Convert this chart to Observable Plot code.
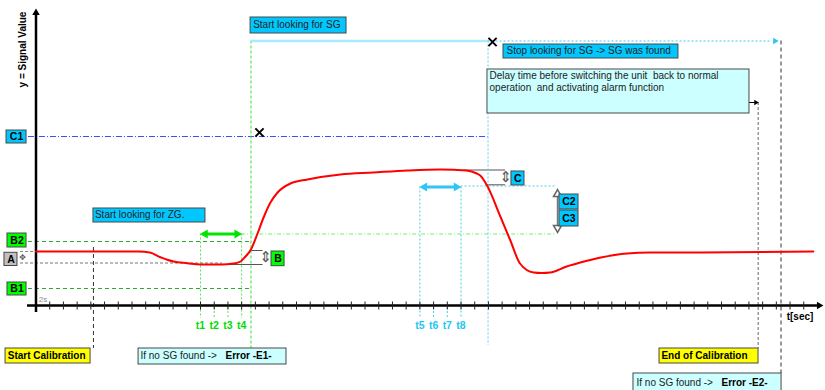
<!DOCTYPE html>
<html><head><meta charset="utf-8">
<script src="https://cdn.jsdelivr.net/npm/d3@7"></script>
<script src="https://cdn.jsdelivr.net/npm/@observablehq/plot@0.6"></script>
<style>body{margin:0;background:#fff}</style>
</head><body><div id="chart"></div>
<script>
// ---------------- data (time in ticks, signal in arbitrary units) ----------------
const curveTime   = [0, 7.5, 8.3, 9.08, 9.57, 10.03, 11.05, 12, 13.5, 14.4, 14.92, 15.28, 15.68, 16.16, 16.6, 17.1, 17.62, 18.56, 19.8, 22.2, 24.6, 27.1, 29.5, 31.4, 32.15, 32.4, 32.86, 33.9, 34.6, 35.3, 36.3, 36.9, 37.5, 38.7, 39.7, 41.2, 43.1, 44.8, 48.5, 56.7];
const curveSignal = [54, 54, 53, 48.3, 45.7, 44, 42.3, 41, 41, 42, 44, 49, 56, 72, 88, 103, 113, 122, 126, 131, 133, 135, 136, 135, 132, 130, 121, 88, 65, 42, 33, 32.5, 33, 39, 43, 48, 52, 53, 53, 54];

const levelNames  = ["C1", "B2", "A", "B1"];
const levelValues = [169, 64, 54, 17];
const aLower  = 42.5;
const bBand   = [41, 55];
const cBand   = [120.7, 135.5];
const c23Band = [73.3, 115.7];
const zgBand  = 71.5;   // level of the t1..t4 window arrow
const sgBand  = 118.5;  // level of the t5..t8 window arrow

const tickTimes = d3.range(1, 57);
const zgNames = ["t1", "t2", "t3", "t4"];
const zgTimes = [12, 13, 14, 15];
const sgNames = ["t5", "t6", "t7", "t8"];
const sgTimes = [28, 29, 30, 31];

const eventNames = ["Start Calibration", "Start looking for SG", "SG was found", "End of Calibration", "Error -E2-"];
const eventTimes = [4.19, 15.68, 32.97, 52.68, 54.34];
const sgSearchLevel = 264.5;
const delayArrowLevel = 203;

// ---------------- annotation layout (data units) ----------------
const CYAN = "#00c8ff", LCYAN = "#ccffff", YEL = "#ffff00", GRN = "#00ff00", GRY = "#c0c0c0";
const boxes = [
  {x1: -2.15, x2: -0.69, y1: 162, y2: 175, fill: CYAN},
  {x1: -2.08, x2: -0.69, y1: 58, y2: 72, fill: GRN},
  {x1: -2.30, x2: -1.35, y1: 39.5, y2: 52.7, fill: GRY},
  {x1: -2.08, x2: -0.69, y1: 10, y2: 23, fill: GRN},
  {x1: 17.18, x2: 18.13, y1: 39.3, y2: 54, fill: GRN},
  {x1: 34.68, x2: 35.63, y1: 120, y2: 134, fill: CYAN},
  {x1: 38.18, x2: 39.57, y1: 96, y2: 111, fill: CYAN},
  {x1: 38.18, x2: 39.57, y1: 79, y2: 95, fill: CYAN},
  {x1: 4.19, x2: 12.36, y1: 83, y2: 97, fill: CYAN},
  {x1: 15.65, x2: 22.65, y1: 272, y2: 288, fill: CYAN},
  {x1: 34.10, x2: 46.86, y1: 247, y2: 261, fill: CYAN},
  {x1: 32.93, x2: 52.04, y1: 192, y2: 236, fill: LCYAN},
  {x1: -2.22, x2: 3.98, y1: -58, y2: -43, fill: YEL},
  {x1: 7.48, x2: 18.27, y1: -59, y2: -43, fill: LCYAN},
  {x1: 45.48, x2: 52.70, y1: -58, y2: -43, fill: YEL},
  {x1: 43.58, x2: 54.38, y1: -88, y2: -68, fill: LCYAN}
];
const centerLabels = [
  {x: -1.42, y: 168.5, text: levelNames[0]},
  {x: -1.385, y: 65, text: levelNames[1]},
  {x: -1.825, y: 46, text: levelNames[2]},
  {x: -1.385, y: 16.5, text: levelNames[3]},
  {x: 17.65, y: 46.7, text: "B"},
  {x: 35.15, y: 127, text: "C"},
  {x: 38.87, y: 103.5, text: "C2"},
  {x: 38.87, y: 87, text: "C3"}
];
const plainLabels = [
  {x: 4.30, y: 91, text: "Start looking for ZG."},
  {x: 15.84, y: 280.7, text: eventNames[1]},
  {x: 34.32, y: 254.5, text: "Stop looking for SG -> SG was found"},
  {x: 33.08, y: 230, text: "Delay time before switching the unit\u00a0 back to normal"},
  {x: 33.08, y: 217.7, text: "operation\u00a0 and activating alarm function"},
  {x: 7.62, y: -50.5, text: "If no SG found ->"},
  {x: 43.80, y: -77.5, text: "If no SG found ->"}
];
const boldLabels = [
  {x: -2.06, y: -50, text: eventNames[0]},
  {x: 45.62, y: -50, text: eventNames[3]},
  {x: 13.82, y: -50.5, text: "Error -E1-"},
  {x: 50.0, y: -77.5, text: eventNames[4]}
];

const curve = curveTime.map((t, i) => ({t, v: curveSignal[i]}));
const font = "'Liberation Sans', Arial, Helvetica, sans-serif";

const chart = Plot.plot({
  width: 825, height: 390,
  marginTop: 0, marginRight: 0, marginBottom: 0, marginLeft: 0,
  x: {type: "linear", domain: [-35.5 / 13.71, 789.5 / 13.71], range: [0, 825], axis: null},
  y: {type: "linear", domain: [-85, 305], range: [390, 0], axis: null},
  style: {fontFamily: font, fontSize: "10px", background: "#fff", overflow: "visible"},
  marks: [
    // reference levels
    Plot.ruleY([levelValues[0]], {x1: -0.55, x2: eventTimes[2], stroke: "#3b4dff", strokeDasharray: "6,2,1,2"}),
    Plot.ruleY([levelValues[1], levelValues[3]], {x1: -0.55, x2: eventTimes[1], stroke: "#2fa82f", strokeDasharray: "4,3"}),
    Plot.ruleY([levelValues[2]], {x1: -1.13, x2: 0, stroke: "#888", strokeDasharray: "3,2"}),
    Plot.ruleY([aLower], {x1: -1.13, x2: 13.6, stroke: "#777", strokeDasharray: "3,2"}),
    Plot.ruleY([zgBand], {x1: zgTimes[3], x2: 37.89, stroke: "#77ee77", strokeDasharray: "4,2,1,2"}),
    Plot.ruleY([sgBand + 1], {x1: sgTimes[3], x2: 37.89, stroke: "#55ccee", strokeDasharray: "2,2"}),
    // B and C brackets
    Plot.ruleY([bBand[1]], {x1: eventTimes[1], x2: 16.56, stroke: "#555"}),
    Plot.ruleY([bBand[0]], {x1: 13.6, x2: 16.56, stroke: "#555"}),
    Plot.ruleY([cBand[1]], {x1: 31.22, x2: 34.25, stroke: "#555"}),
    Plot.ruleY([cBand[0]], {x1: 32.82, x2: 34.25, stroke: "#555"}),
    // time window markers
    Plot.ruleX([zgTimes[0], zgTimes[3]], {y1: zgBand, y2: -13, stroke: "#55e855", strokeDasharray: "2,2"}),
    Plot.ruleX([zgTimes[1], zgTimes[2]], {y1: -2, y2: -13, stroke: "#55e855", strokeDasharray: "2,2"}),
    Plot.ruleX([sgTimes[0], sgTimes[3]], {y1: sgBand, y2: -13, stroke: "#44ccee", strokeDasharray: "2,2"}),
    Plot.ruleX([sgTimes[1], sgTimes[2]], {y1: -2, y2: -13, stroke: "#44ccee", strokeDasharray: "2,2"}),
    // event verticals
    Plot.ruleX([eventTimes[0]], {y1: 58, y2: -43, stroke: "#333", strokeDasharray: "4,3"}),
    Plot.ruleX([eventTimes[1]], {y1: sgSearchLevel, y2: -43, stroke: "#33e033", strokeDasharray: "3,2"}),
    Plot.ruleX([eventTimes[2]], {y1: sgSearchLevel, y2: -40, stroke: "#5ccbee", strokeDasharray: "2,2"}),
    Plot.ruleX([eventTimes[3]], {y1: delayArrowLevel, y2: -43, stroke: "#999", strokeWidth: 1.5, strokeDasharray: "3,2"}),
    Plot.ruleX([eventTimes[4]], {y1: sgSearchLevel, y2: -68, stroke: "#333", strokeDasharray: "4,3"}),
    // SG search span
    Plot.ruleY([sgSearchLevel], {x1: eventTimes[1], x2: eventTimes[2], stroke: "#a8ecff", strokeWidth: 2.5}),
    Plot.ruleY([sgSearchLevel], {x1: eventTimes[2], x2: 53.7, stroke: "#44c8f0", strokeWidth: 1.2, strokeDasharray: "2,2"}),
    Plot.dot([{x: 53.9, y: sgSearchLevel}], {x: "x", y: "y", symbol: "triangle", r: 2.4, rotate: 90, fill: "#33c4f0"}),
    // delay arrow
    Plot.ruleY([delayArrowLevel], {x1: 52.04, x2: 52.5, stroke: "#000"}),
    Plot.dot([{x: 52.5, y: delayArrowLevel}], {x: "x", y: "y", symbol: "triangle", r: 2, rotate: 90, fill: "#000"}),
    // window arrows
    Plot.ruleY([zgBand], {x1: zgTimes[0] + 0.2, x2: zgTimes[3] - 0.2, stroke: "#00e600", strokeWidth: 3}),
    Plot.dot([{x: zgTimes[0] + 0.34, r: -90}, {x: zgTimes[3] - 0.34, r: 90}], {x: "x", y: () => zgBand, symbol: "triangle", r: 3.3, rotate: "r", fill: "#00e600"}),
    Plot.ruleY([sgBand], {x1: sgTimes[0] + 0.2, x2: sgTimes[3] - 0.2, stroke: "#2fc6f5", strokeWidth: 3}),
    Plot.dot([{x: sgTimes[0] + 0.34, r: -90}, {x: sgTimes[3] - 0.34, r: 90}], {x: "x", y: () => sgBand, symbol: "triangle", r: 3.3, rotate: "r", fill: "#2fc6f5"}),
    // C2/C3 span arrow
    Plot.ruleX([38.04], {y1: c23Band[0] + 3, y2: c23Band[1] - 3, stroke: "#777", strokeWidth: 1.5}),
    Plot.dot([{y: c23Band[1] - 4.4, r: 0}, {y: c23Band[0] + 4.4, r: 180}], {x: () => 38.04, y: "y", symbol: "triangle", r: 3, rotate: "r", fill: "#fff", stroke: "#666"}),
    // axes
    Plot.ruleX([0], {y1: -7, y2: 292, stroke: "#000", strokeWidth: 2.5}),
    Plot.ruleY([0], {x1: -0.62, x2: 57.0, stroke: "#000", strokeWidth: 2.5}),
    Plot.ruleX(tickTimes, {y1: -4.5, y2: 3.5, stroke: "#222"}),
    Plot.dot([{x: 0, y: 292.7, r: 0}, {x: 57.12, y: 0, r: 90}], {x: "x", y: "y", symbol: "triangle", r: 2.8, rotate: "r", fill: "#000"}),
    // signal
    Plot.line(curve, {x: "t", y: "v", stroke: "#ff0000", strokeWidth: 2, curve: "monotone-x"}),
    // crosses
    Plot.dot([{x: 16.3, y: 173}, {x: 33.3, y: 263.5}], {x: "x", y: "y", symbol: "times", r: 3.8, stroke: "#000", strokeWidth: 2}),
    // boxes
    Plot.rect(boxes, {x1: "x1", x2: "x2", y1: "y1", y2: "y2", fill: "fill", stroke: "#484848", strokeWidth: 1}),
    Plot.text(centerLabels, {x: "x", y: "y", text: "text", fontWeight: "bold", fontSize: 10.5, fontFamily: font, fill: "#000"}),
    Plot.text(plainLabels, {x: "x", y: "y", text: "text", textAnchor: "start", fontSize: 10, fontFamily: font, fill: "#222"}),
    Plot.text(boldLabels, {x: "x", y: "y", text: "text", textAnchor: "start", fontWeight: "bold", fontSize: 10, fontFamily: font, fill: "#000"}),
    // double arrow glyphs
    Plot.text([{x: 16.74, y: 48}, {x: 34.25, y: 128}], {x: "x", y: "y", text: () => "\u21D5", fontSize: 15, fontFamily: "DejaVu Sans", fill: "#555"}),
    Plot.text([{x: -0.985, y: 48}], {x: "x", y: "y", text: () => "\u2725", fontSize: 8, fontFamily: "DejaVu Sans", fill: "#555"}),
    // time labels
    Plot.text(zgTimes, {x: d => d, y: () => -20, text: (d, i) => zgNames[i], fontWeight: "bold", fontSize: 10.5, fontFamily: font, fill: "#00dd00"}),
    Plot.text(sgTimes, {x: d => d, y: () => -20, text: (d, i) => sgNames[i], fontWeight: "bold", fontSize: 10.5, fontFamily: font, fill: "#22c8f0"}),
    // axis titles
    Plot.text(["y = Signal Value"], {x: () => -0.985, y: () => 256, text: d => d, rotate: -90, fontWeight: "bold", fontSize: 10, fontFamily: font, fill: "#000"}),
    Plot.text(["t[sec]"], {x: () => 55.73, y: () => -11, text: d => d, fontWeight: "bold", fontSize: 10, fontFamily: font, fill: "#000"}),
    Plot.text(["2s"], {x: () => 0.51, y: () => 6.5, text: d => d, fontSize: 8, fontFamily: font, fill: "#888"})
  ]
});
document.getElementById("chart").appendChild(chart);
</script>
</body></html>
